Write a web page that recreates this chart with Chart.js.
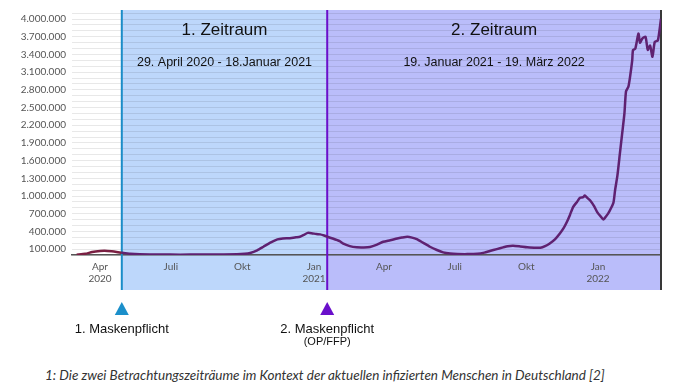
<!DOCTYPE html>
<html lang="de">
<head>
<meta charset="utf-8">
<script src="https://cdn.jsdelivr.net/npm/chart.js@4"></script>
<style>
  html, body { margin: 0; padding: 0; background: #fff; }
  #wrap { position: relative; width: 674px; height: 387px; }
  #box { position: absolute; left: 0; top: 0; width: 674px; height: 355px; }
  #caption {
    position: absolute; left: 45px; top: 367px;
    font: italic 13.5px Lato, sans-serif; color: #333; white-space: nowrap;
  }
</style>
</head>
<body>
<div id="wrap">
  <div id="box"><canvas id="myChart"></canvas></div>
  <div id="caption">1: Die zwei Betrachtungszeiträume im Kontext der aktuellen infizierten Menschen in Deutschland [2]</div>
</div>
<script>
// Tage seit dem 1. April 2020
const tage = [-30, -19, -10, 0, 6, 15, 23, 28, 39, 51, 77, 103, 129, 154, 176, 186, 193, 202, 210, 219,
  228, 235, 244, 252, 257, 262, 267, 272, 278, 283, 288, 293, 299, 308, 312, 321, 330, 339, 347, 356,
  364, 373, 382, 388, 395, 401, 407, 415, 424, 433, 441, 450, 459, 472, 485, 494, 501, 510, 518, 524,
  531, 540, 549, 558, 566, 572, 578, 585, 591, 596, 600, 604, 608, 613, 617, 621, 623, 627, 630, 635,
  639, 643, 647, 650, 653, 657, 660, 662, 665, 668, 671, 674, 676, 679, 681, 684, 685, 688, 692, 694,
  697, 701, 703, 704, 707, 710, 713, 717, 721];
// aktuell Infizierte (Tausend)
const infizierte = [5, 20, 50, 68, 72, 62, 48, 38, 20, 12, 8, 6, 8, 10, 12, 20, 35, 80, 140, 210,
  265, 280, 285, 300, 310, 340, 375, 370, 355, 350, 330, 305, 280, 235, 196, 150, 130, 128, 135, 175,
  224, 250, 280, 295, 308, 295, 270, 210, 140, 85, 45, 25, 17, 15, 20, 40, 67, 100, 130, 150,
  157, 145, 130, 125, 123, 150, 196, 270, 364, 460, 560, 680, 812, 900, 970, 980, 1008, 960, 924, 830,
  728, 660, 600, 650, 700, 800, 896, 1100, 1350, 1700, 2050, 2400, 2773, 2850, 3000, 3300, 3474, 3500, 3753, 3600,
  3670, 3700, 3550, 3474, 3550, 3361, 3613, 3640, 4005];

const tickTage = [0, 91, 183, 275, 365, 456, 548, 640];
const tickLabels = [['Apr', '2020'], 'Juli', 'Okt', ['Jan', '2021'], 'Apr', 'Juli', 'Okt', ['Jan', '2022']];
// Gitterlinien alle 100.000, Beschriftung alle 300.000
const yGitter = Array.from({ length: 42 }, (_, k) => k * 100000);
const yBeschriftet = [100000, 400000, 700000, 1000000, 1300000, 1600000, 1900000, 2200000,
  2500000, 2800000, 3100000, 3400000, 3700000, 4000000];

const maske1 = 28;   // 29. April 2020
const maske2 = 292;  // 18. Januar 2021

function fmt(v) {
  return String(v).replace(/\B(?=(\d{3})+(?!\d))/g, '.');
}

const zeitraeume = {
  id: 'zeitraeume',
  beforeDraw(chart) {
    const { ctx, chartArea, scales: { x } } = chart;
    const a = x.getPixelForValue(maske1);
    const b = x.getPixelForValue(maske2);
    ctx.save();
    ctx.fillStyle = '#bdd7fb';
    ctx.fillRect(a, 10, b - a, 280);
    ctx.fillStyle = '#babdfa';
    ctx.fillRect(b, 10, chartArea.right - b, 280);
    ctx.restore();
  },
  beforeDatasetsDraw(chart) {
    const { ctx, chartArea, scales: { x } } = chart;
    const a = x.getPixelForValue(maske1);
    const b = x.getPixelForValue(maske2);
    ctx.save();
    ctx.lineWidth = 2;
    ctx.strokeStyle = '#1a8cc8';
    ctx.beginPath(); ctx.moveTo(a, 10); ctx.lineTo(a, 290); ctx.stroke();
    ctx.strokeStyle = '#6a0fcb';
    ctx.beginPath(); ctx.moveTo(b, 10); ctx.lineTo(b, 290); ctx.stroke();
    ctx.strokeStyle = '#383838';
    ctx.beginPath(); ctx.moveTo(chartArea.right, 10); ctx.lineTo(chartArea.right, 290); ctx.stroke();

    ctx.fillStyle = '#111';
    ctx.textAlign = 'center';
    ctx.textBaseline = 'middle';
    const m1 = (a + b) / 2, m2 = (b + chartArea.right) / 2;
    ctx.font = '17px "Liberation Sans", Arial, sans-serif';
    ctx.fillText('1. Zeitraum', m1, 30);
    ctx.fillText('2. Zeitraum', m2, 30);
    ctx.font = '12.5px "Liberation Sans", Arial, sans-serif';
    ctx.fillText('29. April 2020 - 18.Januar 2021', m1, 63);
    ctx.fillText('19. Januar 2021 - 19. März 2022', m2, 63);

    // Dreiecke und Beschriftung unter der Achse
    [[a, '#1b8fca'], [b, '#6a0fcb']].forEach(([px, c]) => {
      ctx.fillStyle = c;
      ctx.beginPath();
      ctx.moveTo(px, 302); ctx.lineTo(px + 7, 315); ctx.lineTo(px - 7, 315);
      ctx.closePath(); ctx.fill();
    });
    ctx.fillStyle = '#111';
    ctx.font = '13px "Liberation Sans", Arial, sans-serif';
    ctx.fillText('1. Maskenpflicht', a, 329);
    ctx.fillText('2. Maskenpflicht', b, 329);
    ctx.font = '11px "Liberation Sans", Arial, sans-serif';
    ctx.fillText('(OP/FFP)', b, 342);
    ctx.restore();
  }
};

new Chart(document.getElementById('myChart'), {
  type: 'line',
  data: {
    datasets: [{
      data: tage.map((t, i) => ({ x: t, y: infizierte[i] * 1000 })),
      borderColor: '#5f2171',
      borderWidth: 2.5,
      pointRadius: 0,
      tension: 0.2,
      segment: {
        borderColor: c => c.p0.parsed.x < maske1 ? '#7a1f42' : '#5f2171'
      }
    }]
  },
  options: {
    responsive: true,
    maintainAspectRatio: false,
    animation: false,
    layout: { padding: { top: 10, right: 13, bottom: 65, left: 0 } },
    plugins: { legend: { display: false }, tooltip: { enabled: false } },
    scales: {
      x: {
        type: 'linear',
        min: -36,
        max: 721,
        afterBuildTicks: s => { s.ticks = tickTage.map(v => ({ value: v })); },
        afterFit: s => { s.height = 35; },
        grid: { display: false, drawTicks: false },
        border: { color: '#555', width: 1.5 },
        ticks: {
          autoSkip: false, maxRotation: 0, padding: 6,
          color: '#555', font: { family: 'Lato', size: 10 },
          callback: (v, i) => tickLabels[i]
        }
      },
      y: {
        type: 'linear',
        min: 0,
        max: 4120000,
        afterBuildTicks: s => { s.ticks = yGitter.map(v => ({ value: v })); },
        afterFit: s => { s.width = 72; },
        grid: { color: 'rgba(0,0,0,0.09)', drawTicks: false },
        border: { display: false },
        ticks: {
          autoSkip: false, padding: 6,
          color: '#555', font: { family: 'Lato', size: 10 },
          callback: v => (yBeschriftet.includes(v) ? fmt(v) : '')
        }
      }
    }
  },
  plugins: [zeitraeume]
});
</script>
</body>
</html>
